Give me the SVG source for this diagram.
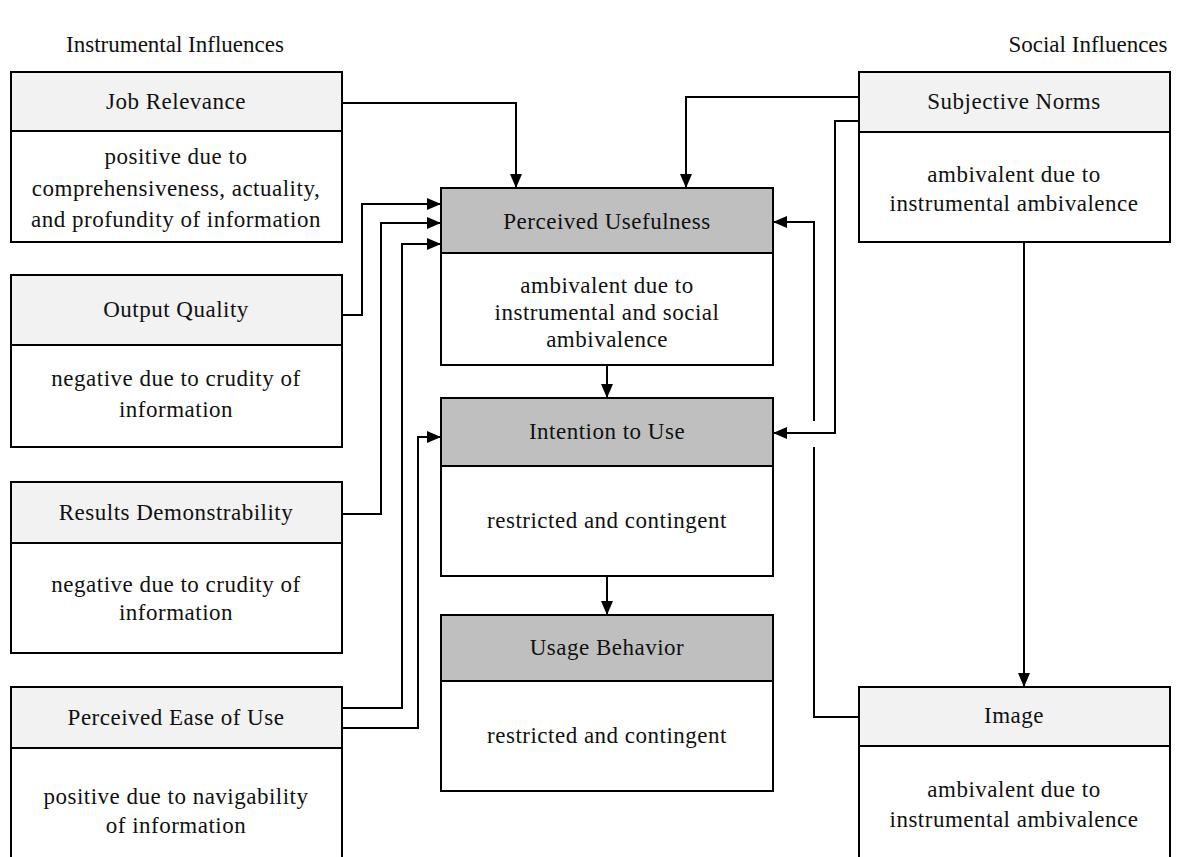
<svg xmlns="http://www.w3.org/2000/svg" width="1182" height="857" viewBox="0 0 1182 857">
<defs>
<style>
.t{font-family:"Liberation Serif","Times New Roman",serif;font-size:23px;letter-spacing:0.5px;fill:#111;text-anchor:middle}
.ti{font-family:"Liberation Serif","Times New Roman",serif;font-size:23px;fill:#111;text-anchor:middle}
.box{fill:#fff;stroke:#000;stroke-width:2}
.hs{fill:#f2f2f2;stroke:#000;stroke-width:2}
.hc{fill:#bfbfbf;stroke:#000;stroke-width:2}
.c{fill:none;stroke:#000;stroke-width:2}
.a{marker-end:url(#arr)}
</style>
<marker id="arr" markerUnits="userSpaceOnUse" markerWidth="14" markerHeight="12" refX="14" refY="6" orient="auto">
<path d="M0,0 L14,6 L0,12 z" fill="#000"/>
</marker>
</defs>
<rect width="1182" height="857" fill="#fff"/>
<text class="ti" x="175" y="52">Instrumental Influences</text>
<text class="ti" x="1088" y="52">Social Influences</text>

<g id="connectors">
<path class="c a" d="M342,103 H516 V188"/>
<path class="c a" d="M342,315 H362 V204 H441"/>
<path class="c a" d="M342,514 H381 V223 H441"/>
<path class="c a" d="M342,708 H402 V244 H441"/>
<path class="c a" d="M342,728 H418 V437 H441"/>
<path class="c a" d="M607,365 V398"/>
<path class="c a" d="M607,576 V615"/>
<path class="c a" d="M859,97 H686 V188"/>
<path class="c a" d="M859,121 H835 V433 H773"/>
<path class="c" d="M859,717 H814 V447"/>
<path class="c a" d="M814,421 V222 H773"/>
<path class="c a" d="M1024,242 V687"/>
</g>

<g id="job-relevance">
<rect class="box" x="11" y="72" width="331" height="170"/>
<rect class="hs" x="11" y="72" width="331" height="59"/>
<text class="t" x="176" y="109">Job Relevance</text>
<text class="t" x="176" y="164">positive due to</text>
<text class="t" x="176" y="196">comprehensiveness, actuality,</text>
<text class="t" x="176" y="227">and profundity of information</text>
</g>

<g id="output-quality">
<rect class="box" x="11" y="275" width="331" height="172"/>
<rect class="hs" x="11" y="275" width="331" height="70"/>
<text class="t" x="176" y="317">Output Quality</text>
<text class="t" x="176" y="386">negative due to crudity of</text>
<text class="t" x="176" y="417">information</text>
</g>

<g id="results-demonstrability">
<rect class="box" x="11" y="482" width="331" height="171"/>
<rect class="hs" x="11" y="482" width="331" height="61"/>
<text class="t" x="176" y="520">Results Demonstrability</text>
<text class="t" x="176" y="592">negative due to crudity of</text>
<text class="t" x="176" y="620">information</text>
</g>

<g id="perceived-ease-of-use">
<rect class="box" x="11" y="687" width="331" height="190"/>
<rect class="hs" x="11" y="687" width="331" height="61"/>
<text class="t" x="176" y="725">Perceived Ease of Use</text>
<text class="t" x="176" y="804">positive due to navigability</text>
<text class="t" x="176" y="833">of information</text>
</g>

<g id="perceived-usefulness">
<rect class="box" x="441" y="188" width="332" height="177"/>
<rect class="hc" x="441" y="188" width="332" height="65"/>
<text class="t" x="607" y="229">Perceived Usefulness</text>
<text class="t" x="607" y="293">ambivalent due to</text>
<text class="t" x="607" y="320">instrumental and social</text>
<text class="t" x="607" y="347">ambivalence</text>
</g>

<g id="intention-to-use">
<rect class="box" x="441" y="398" width="332" height="178"/>
<rect class="hc" x="441" y="398" width="332" height="68"/>
<text class="t" x="607" y="439">Intention to Use</text>
<text class="t" x="607" y="528">restricted and contingent</text>
</g>

<g id="usage-behavior">
<rect class="box" x="441" y="615" width="332" height="176"/>
<rect class="hc" x="441" y="615" width="332" height="66"/>
<text class="t" x="607" y="655">Usage Behavior</text>
<text class="t" x="607" y="743">restricted  and contingent</text>
</g>

<g id="subjective-norms">
<rect class="box" x="859" y="72" width="311" height="170"/>
<rect class="hs" x="859" y="72" width="311" height="60"/>
<text class="t" x="1014" y="109">Subjective Norms</text>
<text class="t" x="1014" y="182">ambivalent due to</text>
<text class="t" x="1014" y="211">instrumental ambivalence</text>
</g>

<g id="image">
<rect class="box" x="859" y="687" width="311" height="190"/>
<rect class="hs" x="859" y="687" width="311" height="59"/>
<text class="t" x="1014" y="723">Image</text>
<text class="t" x="1014" y="797">ambivalent due to</text>
<text class="t" x="1014" y="827">instrumental ambivalence</text>
</g>
</svg>
